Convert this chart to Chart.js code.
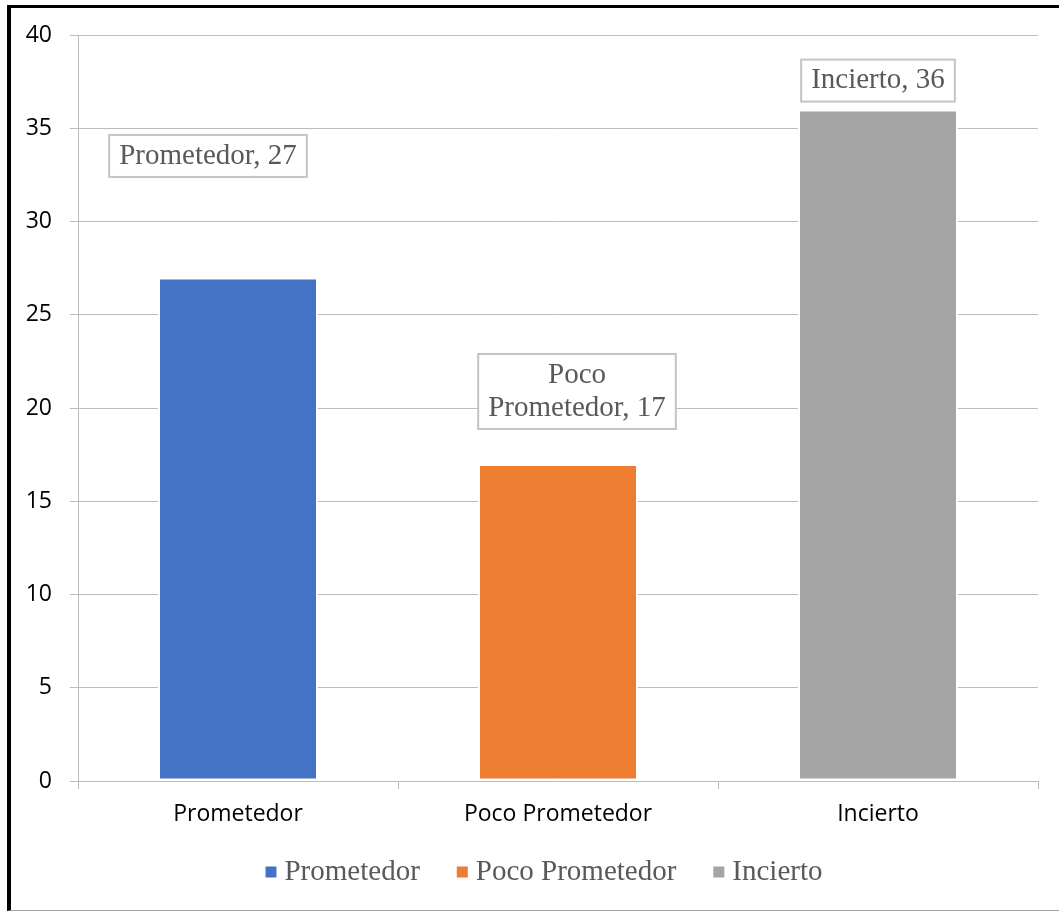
<!DOCTYPE html>
<html>
<head>
<meta charset="utf-8">
<title>Prometedor / Poco Prometedor / Incierto</title>
<script src="https://cdn.jsdelivr.net/npm/chart.js@4.4.1/dist/chart.umd.min.js"></script>
<style>
  html, body { margin: 0; padding: 0; background: #fff; }
  #wrap { position: relative; width: 1059px; height: 911px; overflow: hidden; }
  #wrap canvas { position: absolute; left: 0; top: 0; }
  #frame {
    position: absolute; left: 7px; top: 5px; right: 0; bottom: 0;
    border-left: 4px solid #000; border-top: 3px solid #000; border-bottom: 1px solid #a6a6a6;
    pointer-events: none;
  }
</style>
</head>
<body>
<div id="wrap">
  <canvas id="chart" width="1059" height="911"></canvas>
  <div id="frame"></div>
</div>
<script>
// data
const categories = ['Prometedor', 'Poco Prometedor', 'Incierto'];
const counts = [27, 17, 36];
const barColors = ['#4472C4', '#ED7D31', '#A5A5A5'];
const yTicks = [0, 5, 10, 15, 20, 25, 30, 35, 40];

const axisGray = '#bcbcbc';
const labelGray = '#595959';

// word wrap for the boxed labels
function wrapText(ctx, text, maxWidth) {
  const words = text.split(' ');
  const lines = [];
  let line = '';
  words.forEach(w => {
    const test = line ? line + ' ' + w : w;
    if (line && ctx.measureText(test).width > maxWidth) {
      lines.push(line);
      line = w;
    } else {
      line = test;
    }
  });
  lines.push(line);
  return lines;
}

// boxed "Category, value" labels above the bars
const boxedLabels = {
  id: 'boxedLabels',
  afterDatasetsDraw(chart, args, opts) {
    const ctx = chart.ctx;
    ctx.save();
    ctx.font = opts.font;
    ctx.textAlign = 'center';
    ctx.textBaseline = 'middle';
    chart.data.datasets.forEach((ds, i) => {
      const bar = chart.getDatasetMeta(i).data[i];
      if (!bar) return;
      const lines = wrapText(ctx, ds.label + ', ' + ds.data[i], opts.maxWidth);
      const w = Math.max(...lines.map(l => ctx.measureText(l).width)) + opts.padX * 2;
      const h = lines.length * opts.lineHeight + opts.padY * 2;
      const [dx, dy] = opts.offsets[i];
      const cx = bar.x + dx;
      const cy = bar.y + dy;
      ctx.fillStyle = '#fff';
      ctx.fillRect(cx - w / 2, cy - h / 2, w, h);
      ctx.strokeStyle = opts.borderColor;
      ctx.lineWidth = opts.borderWidth;
      ctx.strokeRect(cx - w / 2, cy - h / 2, w, h);
      ctx.fillStyle = opts.color;
      lines.forEach((l, k) => {
        ctx.fillText(l, cx, cy - h / 2 + opts.padY + opts.lineHeight * (k + 0.5));
      });
    });
    ctx.restore();
  }
};

// legend drawn Excel style: small square, short gap, serif text
const excelLegend = {
  id: 'excelLegend',
  afterDraw(chart, args, opts) {
    const ctx = chart.ctx;
    ctx.save();
    ctx.font = opts.font;
    ctx.textBaseline = 'middle';
    ctx.textAlign = 'left';
    const items = chart.data.datasets.map(ds => ({
      text: ds.label,
      color: ds.backgroundColor,
      w: ctx.measureText(ds.label).width
    }));
    const total = items.reduce((s, it) => s + opts.box + opts.gap + it.w, 0) + opts.spacing * (items.length - 1);
    let x = opts.centerX - total / 2;
    items.forEach(it => {
      ctx.fillStyle = it.color;
      ctx.fillRect(x, opts.y - opts.box / 2, opts.box, opts.box);
      x += opts.box + opts.gap;
      ctx.fillStyle = opts.color;
      ctx.fillText(it.text, x, opts.y);
      x += it.w + opts.spacing;
    });
    ctx.restore();
  }
};

const datasets = categories.map((name, i) => ({
  label: name,
  data: categories.map((_, j) => (j === i ? counts[i] : null)),
  backgroundColor: barColors[i],
  borderColor: '#fff',
  borderWidth: 2,
  borderSkipped: false,
  grouped: false,
  categoryPercentage: 1,
  barPercentage: 0.5
}));

new Chart(document.getElementById('chart'), {
  type: 'bar',
  data: { labels: categories, datasets: datasets },
  options: {
    responsive: false,
    animation: false,
    devicePixelRatio: 1,
    layout: { padding: { left: 0, top: 35, right: 21, bottom: 0 } },
    plugins: {
      legend: { display: false },
      tooltip: { enabled: false },
      boxedLabels: {
        font: '29px "Liberation Serif", "Times New Roman", serif',
        color: labelGray,
        borderColor: '#c4c4c4',
        borderWidth: 2,
        maxWidth: 185,
        lineHeight: 33,
        padX: 10,
        padY: 4.5,
        offsets: [[-30, -121.5], [19, -72.5], [0, -29]]
      },
      excelLegend: {
        font: '29px "Liberation Serif", "Times New Roman", serif',
        color: labelGray,
        box: 11,
        gap: 8,
        spacing: 37,
        centerX: 544,
        y: 872
      }
    },
    scales: {
      x: {
        grid: { offset: true, drawOnChartArea: false, drawTicks: true, tickLength: 8, color: axisGray },
        border: { color: axisGray },
        ticks: {
          color: '#000',
          padding: 12,
          font: { family: '"Open Sans"', size: 23 }
        },
        afterFit: scale => { scale.height = 130; }
      },
      y: {
        min: yTicks[0],
        max: yTicks[yTicks.length - 1],
        grid: { color: axisGray, tickLength: 8 },
        border: { color: axisGray },
        ticks: {
          stepSize: yTicks[1] - yTicks[0],
          color: '#000',
          padding: 18,
          font: { family: '"Open Sans"', size: 23 }
        },
        afterFit: scale => { scale.width = 78; }
      }
    }
  },
  plugins: [boxedLabels, excelLegend]
});
</script>
</body>
</html>
